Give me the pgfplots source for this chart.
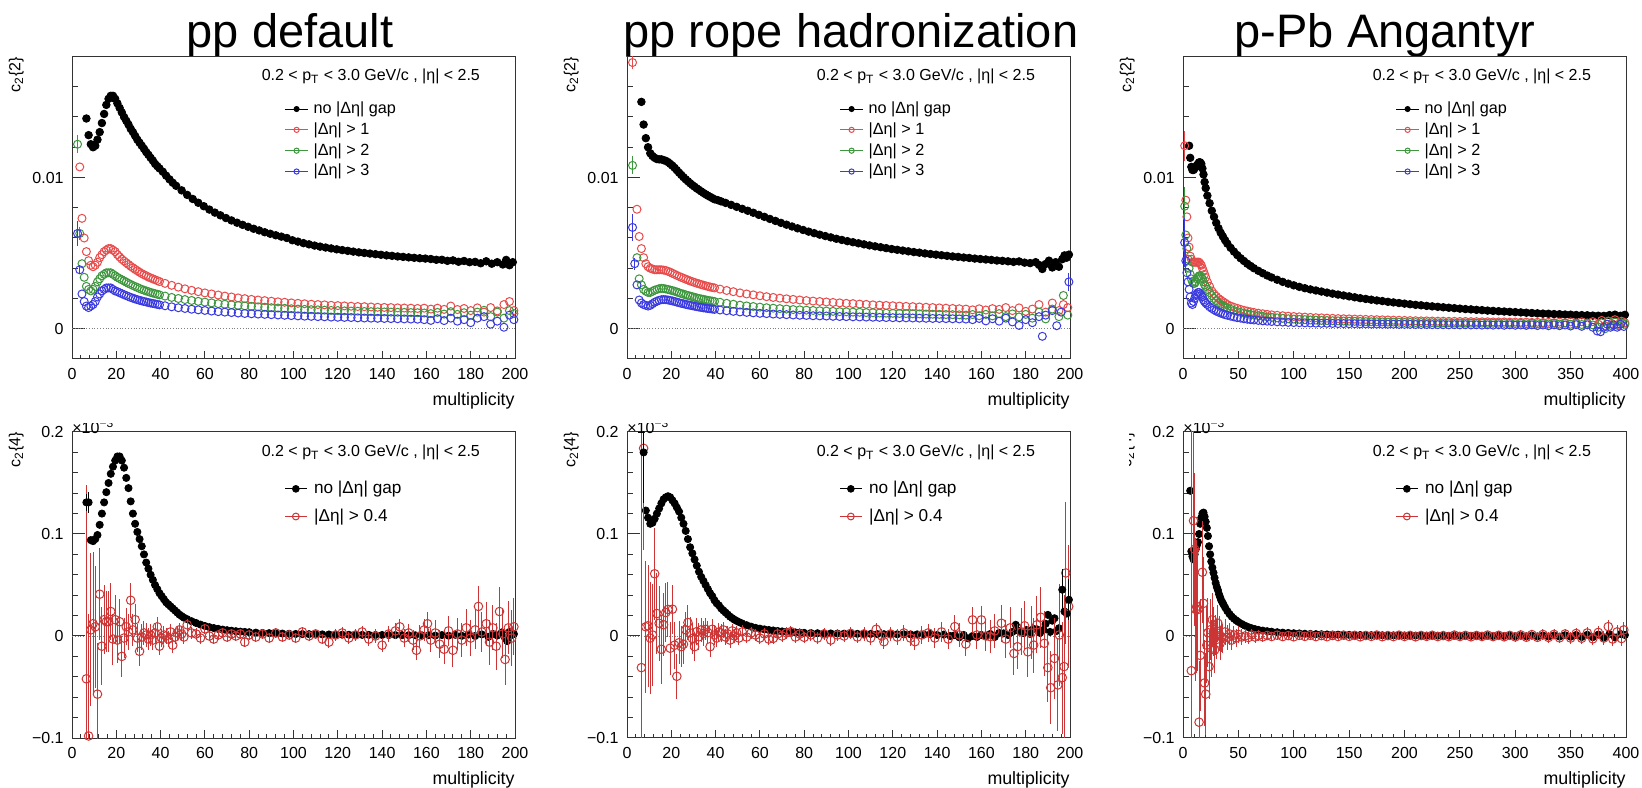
\documentclass[border=0pt]{standalone}
\usepackage{fontspec}
\setmainfont{Liberation Sans}
\usepackage{pgfplots}
\pgfplotsset{compat=1.18}

\definecolor{rred}{HTML}{E84B4B}
\definecolor{rgreen}{HTML}{3E963E}
\definecolor{rblue}{HTML}{3A3AE0}
\definecolor{cred}{HTML}{CC3535}
\definecolor{frame}{HTML}{333333}

\tikzset{kin/.style={anchor=west, inner sep=0pt, font=\fontsize{8}{9}\selectfont}}

\pgfplotsset{
  rootbase/.style={
    scale only axis, width=221.5pt,
    clip mode=individual,
    axis line style={line width=0.5pt, draw=frame},
    tick align=inside, tick pos=left,
    tick style={frame, line width=0.5pt},
    xtick style={/pgfplots/major tick length=3.8pt, /pgfplots/minor tick length=1.8pt},
    ytick style={/pgfplots/major tick length=6.5pt, /pgfplots/minor tick length=3.2pt},
    ticklabel style={font=\fontsize{8}{9}\selectfont},
    xticklabel style={inner sep=0pt, yshift=-4.5pt},
    yticklabel style={inner sep=0pt, xshift=-4pt},
    /pgf/number format/assume math mode=true,
    scaled ticks=false,
    xlabel={multiplicity},
    xlabel style={at={(1,0)}, anchor=north east, inner sep=0pt, yshift=-16.4pt, font=\fontsize{8.9}{10}\selectfont},
    ylabel style={at={(-0.1084,1)}, anchor=south east, inner sep=0pt, font=\fontsize{8}{9}\selectfont},
    legend cell align=left,
  },
  pp/.style={xmin=0, xmax=200, xtick={0,20,...,200}, minor x tick num=4},
  ppb/.style={xmin=0, xmax=400, xtick={0,50,...,400}, minor x tick num=4},
  cII/.style={height=151.25pt, ymin=-0.002, ymax=0.018, ytick={0,0.01}, yticklabels={0,0.01},
    minor ytick={0.002,0.004,0.006,0.008,0.012,0.014,0.016},
    ylabel={c\textsubscript{2}\{2\}},
    legend image code/.code={
      \draw[##1,mark=none] (0pt,0pt) -- (11.5pt,0pt);
      \draw[##1,mark size=1.3pt] plot coordinates {(5.75pt,0pt)};
    },
    legend style={draw=none, fill=none, inner sep=0pt, nodes={inner sep=0pt}, column sep=2.5pt,
      at={(0.479,0.723)}, anchor=west, row sep=3.05pt, font=\fontsize{8.1}{9}\selectfont}},
  cIV/.style={height=153pt, ymin=-0.1, ymax=0.2, ytick={-0.1,0,0.1,0.2}, yticklabels={−0.1,0,0.1,0.2},
    minor ytick={-0.08,-0.06,-0.04,-0.02,0.02,0.04,0.06,0.08,0.12,0.14,0.16,0.18},
    ylabel={c\textsubscript{2}\{4\}},
    legend image code/.code={
      \draw[##1,mark=none] (0pt,0pt) -- (10.75pt,0pt);
      \draw[##1,mark size=1.7pt] plot coordinates {(5.375pt,0pt)};
    },
    legend style={draw=none, fill=none, inner sep=0pt, nodes={inner sep=0pt}, column sep=3.5pt,
      at={(0.479,0.769)}, anchor=west, row sep=6.1pt, font=\fontsize{8.6}{10}\selectfont}},
  zl/.style={forget plot, gray, densely dotted, line width=0.4pt},
  blk/.style={only marks, mark=*, mark size=1.9pt, black},
  blb/.style={only marks, mark=*, mark size=1.8pt, black},
  opn/.style={only marks, mark=o, mark size=2.0pt, line width=0.5pt, #1},
  opb/.style={only marks, mark=o, mark size=2.15pt, line width=0.5pt, #1},
  eb/.style={forget plot, error bars/.cd, y dir=both, y explicit, error mark=none,
    error bar style={line width=0.5pt, #1}},
}

\newcommand{\kintext}{0.2 < p\textsubscript{T} < 3.0 GeV/c , |η| < 2.5}

\begin{document}
\begin{tikzpicture}
\useasboundingbox (0,0) rectangle (821pt,393.5pt);
\node[anchor=base, inner sep=0pt, font=\fontsize{23.5}{28}\selectfont] at (145pt,369.5pt) {pp default};
\node[anchor=base, inner sep=0pt, font=\fontsize{23.5}{28}\selectfont] at (425.5pt,369.5pt) {pp rope hadronization};
\node[anchor=base, inner sep=0pt, font=\fontsize{23.5}{28}\selectfont] at (692.5pt,369.5pt) {p-Pb Angantyr};

% ---------------- top left: pp default, c2{2}
\begin{axis}[rootbase, pp, cII, at={(36pt,214pt)}, anchor=south west]
\addplot[zl] coordinates {(0,0) (200,0)};
\addplot[blk] coordinates {
(6.5,0.0139)(7.5,0.0128)(8.5,0.0122)(9.5,0.0120)(10.5,0.0121)(11.5,0.0125)(12.5,0.0130)(13.5,0.0136)
(14.5,0.0142)(15.5,0.0148)(16.5,0.0152)(17.5,0.0154)(18.5,0.0154)(19.5,0.0152)(20.5,0.0149)(21.5,0.0146)
(22.5,0.0143)(23.5,0.0140)(24.5,0.01375)(25.5,0.0135)(26.5,0.01322)(27.5,0.0130)(28.5,0.01275)(29.5,0.0125)
(30.5,0.0123)(31.5,0.0121)(32.5,0.0119)(33.5,0.01168)(34.5,0.0115)(35.5,0.0113)(36.5,0.01112)(37.5,0.0109)
(38.5,0.01075)(39.5,0.0106)(41,0.01038)(42.5,0.01012)(44,0.00988)(45.5,0.00965)(47,0.00945)(49.5,0.00915)(52,0.00885)(54.5,0.00858)
(57,0.00833)(59.5,0.0081)(62,0.00788)(64.5,0.00768)(67,0.0075)(69.5,0.00732)(72,0.00716)(74.5,0.00701)
(77,0.00687)(79.5,0.00674)(82,0.00661)(84.5,0.0065)(87,0.00638)(89.5,0.00628)(92,0.00618)(94.5,0.00609)
(97,0.006)(99.5,0.00585)(102,0.00576)(104.5,0.00566)(107,0.00558)(109.5,0.0055)(112,0.00543)(114.5,0.00537)
(117,0.00531)(119.5,0.00525)(122,0.0052)(124.5,0.00515)(127,0.0051)(129.5,0.00505)(132,0.00501)(134.5,0.00497)
(137,0.00493)(139.5,0.00489)(142,0.00485)(144.5,0.00482)(147,0.00478)(149.5,0.00475)(152,0.00472)(154.5,0.00469)
(157,0.00466)(159.5,0.00464)(162,0.00461)(164.5,0.00456)(167,0.00456)(169.5,0.00449)(172,0.00452)(174.5,0.00443)
(177,0.00448)(179.5,0.0044)(182,0.00442)(184.5,0.00433)(187,0.00446)(189.5,0.0043)(192,0.0044)(194.5,0.00425)
(196,0.00455)(197.5,0.0042)(199,0.0044)};
\addlegendentry{no |Δη| gap}
\addplot[opn=rred] coordinates {
(3.5,0.0107)(4.5,0.0073)(5.5,0.0060)(6.5,0.0051)(7.5,0.0045)(8.5,0.0042)(9.5,0.0041)(10.5,0.0042)
(11.5,0.0044)(12.5,0.0047)(13.5,0.0049)(14.5,0.0051)(15.5,0.0052)(16.5,0.0053)(17.5,0.0053)(18.5,0.0052)
(19.5,0.0051)(20.5,0.0049)(21.5,0.00475)(22.5,0.0046)(23.5,0.00448)(24.5,0.00436)(25.5,0.00425)(26.5,0.00413)
(27.5,0.00403)(28.5,0.00393)(29.5,0.00383)(30.5,0.00374)(31.5,0.00365)(32.5,0.00357)(33.5,0.0035)(34.5,0.00342)
(35.5,0.00336)(36.5,0.0033)(37.5,0.00324)(38.5,0.00318)(39.5,0.00312)(42,0.003)(45,0.00287)(48,0.00275)
(51,0.00264)(54,0.00254)(57,0.00245)(60,0.00237)(63,0.0023)(66,0.00223)(69,0.00216)(72,0.0021)
(75,0.00204)(78,0.00199)(81,0.00194)(84,0.0019)(87,0.00186)(90,0.00182)(93,0.00178)(96,0.00175)
(99,0.00171)(102,0.00168)(105,0.00165)(108,0.00162)(111,0.0016)(114,0.00158)(117,0.00155)(120,0.00153)
(123,0.00151)(126,0.00149)(129,0.00147)(132,0.00146)(135,0.00144)(138,0.00142)(141,0.00141)(144,0.0014)
(147,0.00138)(150,0.00137)(153,0.00136)(156,0.00134)(159,0.00136)(162,0.0013)(165,0.00136)(168,0.00128)
(171,0.0015)(174,0.00127)(177,0.00134)(180,0.0012)(183,0.00138)(186,0.0011)(189,0.0014)(192,0.00118)
(195,0.0016)(197.5,0.0018)(199.5,0.0012)};
\addlegendentry{|Δη| > 1}
\addplot[opn=rgreen] coordinates {
(4.5,0.0043)(5.5,0.0034)(6.5,0.0028)(7.5,0.0026)(8.5,0.0025)(9.5,0.0026)(10.5,0.0028)(11.5,0.0031)
(12.5,0.0033)(13.5,0.0035)(14.5,0.0036)(15.5,0.0037)(16.5,0.0037)(17.5,0.0037)(18.5,0.0036)(19.5,0.0035)
(20.5,0.0034)(21.5,0.00332)(22.5,0.00324)(23.5,0.00316)(24.5,0.00308)(25.5,0.003)(26.5,0.00293)(27.5,0.00286)
(28.5,0.00279)(29.5,0.00273)(30.5,0.00266)(31.5,0.0026)(32.5,0.00255)(33.5,0.0025)(34.5,0.00245)(35.5,0.0024)
(36.5,0.00236)(37.5,0.00232)(38.5,0.00228)(39.5,0.00224)(42,0.00216)(45,0.00207)(48,0.002)(51,0.00193)
(54,0.00187)(57,0.00181)(60,0.00176)(63,0.00171)(66,0.00166)(69,0.00162)(72,0.00158)(75,0.00154)
(78,0.00151)(81,0.00148)(84,0.00145)(87,0.00142)(90,0.00139)(93,0.00137)(96,0.00135)(99,0.00132)
(102,0.0013)(105,0.00128)(108,0.00126)(111,0.00125)(114,0.00123)(117,0.00121)(120,0.0012)(123,0.00118)
(126,0.00117)(129,0.00116)(132,0.00114)(135,0.00113)(138,0.00112)(141,0.00111)(144,0.0011)(147,0.00109)
(150,0.00108)(153,0.00107)(156,0.00106)(159,0.00104)(162,0.001)(165,0.00108)(168,0.00097)(171,0.00113)
(174,0.00095)(177,0.00106)(180,0.0009)(183,0.0011)(186,0.00122)(189,0.0008)(192,0.0011)(195,0.0007)
(197.5,0.0012)(199.5,0.001)};
\addlegendentry{|Δη| > 2}
\addplot[opn=rblue] coordinates {
(4.5,0.0023)(5.5,0.0018)(6.5,0.0015)(7.5,0.0014)(8.5,0.0015)(9.5,0.0016)(10.5,0.0018)(11.5,0.0021)
(12.5,0.0023)(13.5,0.0025)(14.5,0.0026)(15.5,0.0027)(16.5,0.0027)(17.5,0.0027)(18.5,0.0026)(19.5,0.0025)
(20.5,0.00245)(21.5,0.00238)(22.5,0.00232)(23.5,0.00225)(24.5,0.00219)(25.5,0.00213)(26.5,0.00207)(27.5,0.00202)
(28.5,0.00197)(29.5,0.00192)(30.5,0.00188)(31.5,0.00184)(32.5,0.0018)(33.5,0.00177)(34.5,0.00173)(35.5,0.0017)
(36.5,0.00167)(37.5,0.00164)(38.5,0.00161)(39.5,0.00158)(42,0.00152)(45,0.00145)(48,0.00139)(51,0.00134)
(54,0.00129)(57,0.00125)(60,0.00121)(63,0.00117)(66,0.00113)(69,0.0011)(72,0.00107)(75,0.00104)
(78,0.00101)(81,0.00099)(84,0.00097)(87,0.00095)(90,0.00093)(93,0.00091)(96,0.00089)(99,0.00087)
(102,0.00085)(105,0.00083)(108,0.00082)(111,0.0008)(114,0.00079)(117,0.00077)(120,0.00076)(123,0.00075)
(126,0.00074)(129,0.00072)(132,0.00071)(135,0.0007)(138,0.00069)(141,0.00068)(144,0.00067)(147,0.00066)
(150,0.00065)(153,0.00064)(156,0.00063)(159,0.0006)(162,0.00055)(165,0.00066)(168,0.00054)(171,0.0007)
(174,0.0005)(177,0.0006)(180,0.0004)(183,0.0007)(186,0.0008)(189,0.0003)(192,0.0005)(195,0.0001)
(197.5,0.0009)(199.5,0.0006)};
\addlegendentry{|Δη| > 3}
\addplot[opn=rgreen, eb=rgreen] coordinates {(2.5,0.0122) +- (0,0.0006) (3.5,0.0063) +- (0,0.0004)};
\addplot[opn=rblue, eb=rblue] coordinates {(2.5,0.0063) +- (0,0.0008) (3.5,0.0039) +- (0,0.0003)};
\node[kin] at (rel axis cs:0.4275,0.935) {\kintext};
\end{axis}

% ---------------- top middle: pp rope, c2{2}
\begin{axis}[rootbase, pp, cII, at={(313.5pt,214pt)}, anchor=south west]
\addplot[zl] coordinates {(0,0) (200,0)};
\addplot[blk] coordinates {
(6.5,0.0150)(7.5,0.0135)(8.5,0.0126)(9.5,0.0120)(10.5,0.0116)(11.5,0.01142)(12.5,0.0113)(13.5,0.01122)
(14.5,0.0112)(15.5,0.0112)(16.5,0.01115)(17.5,0.0111)(18.5,0.01102)(19.5,0.0109)(20.5,0.01078)(21.5,0.01064)
(22.5,0.01048)(23.5,0.01032)(24.5,0.01017)(25.5,0.01002)(26.5,0.00988)(27.5,0.00975)(28.5,0.00962)(29.5,0.0095)
(30.5,0.00939)(31.5,0.00928)(32.5,0.00918)(33.5,0.00908)(34.5,0.00898)(35.5,0.00889)(36.5,0.0088)(37.5,0.00872)
(38.5,0.00864)(39.5,0.00856)(41,0.0085)(42.5,0.00842)(44.5,0.00832)(47,0.00819)(49.5,0.00806)(52,0.00793)(54.5,0.0078)
(57,0.00767)(59.5,0.00753)(62,0.0074)(64.5,0.00726)(67,0.00713)(69.5,0.007)(72,0.00688)(74.5,0.00676)
(77,0.00664)(79.5,0.00653)(82,0.00642)(84.5,0.00632)(87,0.00622)(89.5,0.00613)(92,0.00604)(94.5,0.00595)
(97,0.00587)(99.5,0.00579)(102,0.00572)(104.5,0.00565)(107,0.00558)(109.5,0.00551)(112,0.00545)(114.5,0.00539)
(117,0.00533)(119.5,0.00527)(122,0.00522)(124.5,0.00517)(127,0.00512)(129.5,0.00507)(132,0.00503)(134.5,0.00498)
(137,0.00494)(139.5,0.0049)(142,0.00486)(144.5,0.00482)(147,0.00478)(149.5,0.00475)(152,0.00471)(154.5,0.00468)
(157,0.00464)(159.5,0.00461)(162,0.00458)(164.5,0.00455)(167,0.00451)(169.5,0.00449)(172,0.00446)(174.5,0.00442)
(177,0.00445)(179.5,0.00437)(182,0.00434)(184.5,0.0044)(186,0.00422)(187.5,0.00395)(189,0.00428)(190.5,0.0045)
(192,0.00405)(193.5,0.0044)(195,0.0041)(196.5,0.0046)(197.5,0.00485)(198.5,0.0047)(199.5,0.0049)};
\addlegendentry{no |Δη| gap}
\addplot[opn=rred] coordinates {
(4.5,0.0079)(5.5,0.0061)(6.5,0.0053)(7.5,0.0047)(8.5,0.0043)(9.5,0.0041)(10.5,0.004)(11.5,0.00395)
(12.5,0.0039)(13.5,0.0039)(14.5,0.0039)(15.5,0.0039)(16.5,0.00388)(17.5,0.00385)(18.5,0.0038)(19.5,0.00374)
(20.5,0.00367)(21.5,0.0036)(22.5,0.00353)(23.5,0.00346)(24.5,0.0034)(25.5,0.00334)(26.5,0.00328)(27.5,0.00322)
(28.5,0.00316)(29.5,0.00311)(30.5,0.00306)(31.5,0.00301)(32.5,0.00297)(33.5,0.00292)(34.5,0.00288)(35.5,0.00284)
(36.5,0.0028)(37.5,0.00276)(38.5,0.00273)(39.5,0.0027)(42,0.00262)(45,0.00253)(48,0.00245)(51,0.00237)
(54,0.0023)(57,0.00224)(60,0.00218)(63,0.00212)(66,0.00207)(69,0.00202)(72,0.00198)(75,0.00194)
(78,0.0019)(81,0.00186)(84,0.00183)(87,0.0018)(90,0.00177)(93,0.00174)(96,0.00171)(99,0.00168)
(102,0.00166)(105,0.00163)(108,0.00161)(111,0.00158)(114,0.00156)(117,0.00154)(120,0.00152)(123,0.0015)
(126,0.00148)(129,0.00146)(132,0.00144)(135,0.00142)(138,0.0014)(141,0.00138)(144,0.00136)(147,0.00134)
(150,0.00132)(153,0.0013)(156,0.00125)(159,0.00132)(162,0.00124)(165,0.00133)(168,0.00128)(171,0.0014)
(174,0.0012)(177,0.00138)(180,0.00115)(183,0.0013)(186,0.0016)(189,0.0011)(192,0.0017)(195,0.0012)
(197,0.0016)(199,0.0014)};
\addlegendentry{|Δη| > 1}
\addplot[opn=rgreen] coordinates {
(4.5,0.0047)(5.5,0.0033)(6.5,0.0029)(7.5,0.0026)(8.5,0.00248)(9.5,0.0024)(10.5,0.0024)(11.5,0.00248)
(12.5,0.00255)(13.5,0.0026)(14.5,0.00265)(15.5,0.00267)(16.5,0.00266)(17.5,0.00263)(18.5,0.0026)(19.5,0.00256)
(20.5,0.00252)(21.5,0.00248)(22.5,0.00243)(23.5,0.00238)(24.5,0.00233)(25.5,0.00229)(26.5,0.00224)(27.5,0.0022)
(28.5,0.00216)(29.5,0.00212)(30.5,0.00208)(31.5,0.00204)(32.5,0.002)(33.5,0.00197)(34.5,0.00194)(35.5,0.00191)
(36.5,0.00188)(37.5,0.00185)(38.5,0.00183)(39.5,0.0018)(42,0.00175)(45,0.00168)(48,0.00162)(51,0.00156)
(54,0.00151)(57,0.00147)(60,0.00143)(63,0.00139)(66,0.00136)(69,0.00133)(72,0.0013)(75,0.00127)
(78,0.00125)(81,0.00123)(84,0.00121)(87,0.00119)(90,0.00117)(93,0.00115)(96,0.00113)(99,0.00112)
(102,0.0011)(105,0.00109)(108,0.00107)(111,0.00106)(114,0.00104)(117,0.00103)(120,0.00102)(123,0.00101)
(126,0.001)(129,0.00099)(132,0.00098)(135,0.00097)(138,0.00096)(141,0.00095)(144,0.00094)(147,0.00093)
(150,0.00092)(153,0.0009)(156,0.00094)(159,0.00086)(162,0.00095)(165,0.00085)(168,0.001)(171,0.0008)
(174,0.00098)(177,0.00078)(180,0.00095)(183,0.0007)(186,0.0011)(189,0.00065)(192,0.0013)(195,0.0008)
(197,0.0022)(199,0.0009)};
\addlegendentry{|Δη| > 2}
\addplot[opn=rblue] coordinates {
(4.5,0.0029)(5.5,0.0019)(6.5,0.0017)(7.5,0.0016)(8.5,0.00155)(9.5,0.0015)(10.5,0.00155)(11.5,0.00165)
(12.5,0.00175)(13.5,0.00182)(14.5,0.00188)(15.5,0.00192)(16.5,0.00193)(17.5,0.00192)(18.5,0.0019)(19.5,0.00187)
(20.5,0.00184)(21.5,0.0018)(22.5,0.00176)(23.5,0.00172)(24.5,0.00168)(25.5,0.00165)(26.5,0.00161)(27.5,0.00158)
(28.5,0.00155)(29.5,0.00152)(30.5,0.00149)(31.5,0.00146)(32.5,0.00143)(33.5,0.00141)(34.5,0.00138)(35.5,0.00136)
(36.5,0.00134)(37.5,0.00132)(38.5,0.0013)(39.5,0.00128)(42,0.00124)(45,0.00119)(48,0.00115)(51,0.00111)
(54,0.00108)(57,0.00105)(60,0.00102)(63,0.001)(66,0.00097)(69,0.00095)(72,0.00093)(75,0.00091)
(78,0.00089)(81,0.00088)(84,0.00086)(87,0.00085)(90,0.00084)(93,0.00082)(96,0.00081)(99,0.0008)
(102,0.00079)(105,0.00078)(108,0.00077)(111,0.00076)(114,0.00075)(117,0.00074)(120,0.00073)(123,0.00072)
(126,0.00072)(129,0.00071)(132,0.0007)(135,0.00069)(138,0.00068)(141,0.00068)(144,0.00067)(147,0.00066)
(150,0.00065)(153,0.00064)(156,0.0006)(159,0.00068)(162,0.00052)(165,0.00066)(168,0.0005)(171,0.0007)
(174,0.00045)(177,0.00022)(180,0.0006)(183,0.0004)(186,0.0008)(187.5,-0.0005)(189,0.0009)(192,0.0012)
(194,0.0002)(196,0.0011)};
\addlegendentry{|Δη| > 3}
\addplot[opn=rred, eb=rred] coordinates {(2.5,0.0176) +- (0,0.0004)};
\addplot[opn=rgreen, eb=rgreen] coordinates {(2.5,0.0108) +- (0,0.0006)};
\addplot[opn=rblue, eb=rblue] coordinates {(2.5,0.0067) +- (0,0.0009) (3.5,0.0043) +- (0,0.0004) (199.5,0.0031) +- (0,0.0006)};
\node[kin] at (rel axis cs:0.4275,0.935) {\kintext};
\end{axis}

% ---------------- top right: p-Pb Angantyr, c2{2}
\begin{axis}[rootbase, ppb, cII, at={(591.5pt,214pt)}, anchor=south west]
\addplot[zl] coordinates {(0,0) (400,0)};
\addplot[blk] coordinates {
(5.5,0.0121)(6.5,0.0113)(7.5,0.0107)(8.5,0.0105)(9.5,0.0105)(10.5,0.0106)(11.5,0.0107)(12.5,0.0108)
(13.5,0.0109)(14.5,0.0110)(15.5,0.0110)(16.5,0.0109)(17.5,0.0106)(18.5,0.0102)(19.5,0.0097)(20.5,0.0093)
(22,0.0088)(24,0.0083)(26,0.0078)(28,0.0074)(30,0.0070)(32,0.00665)(34,0.00635)(36,0.0061)
(38,0.00585)(40,0.00563)(43,0.00535)(46,0.0051)(49,0.00487)(52,0.00466)(55,0.00448)(58,0.0043)
(61,0.00415)(64,0.004)(68,0.00383)(72,0.00367)(76,0.00352)(80,0.00339)(85,0.00324)(90,0.0031)
(95,0.00298)(100,0.00287)(105,0.00277)(110,0.00268)(115,0.0026)(120,0.00253)(125,0.00246)(130,0.00239)
(135,0.00232)(140,0.00226)(145,0.0022)(150,0.00214)(155,0.00208)(160,0.00202)(165,0.00197)(170,0.00192)
(175,0.00187)(180,0.00183)(185,0.00178)(190,0.00174)(195,0.0017)(200,0.00166)(205,0.00162)(210,0.00158)
(215,0.00155)(220,0.00151)(225,0.00148)(230,0.00145)(235,0.00142)(240,0.00139)(245,0.00136)(250,0.00133)
(255,0.0013)(260,0.00128)(265,0.00125)(270,0.00123)(275,0.0012)(280,0.00118)(285,0.00116)(290,0.00114)
(295,0.00112)(300,0.0011)(305,0.00108)(310,0.00106)(315,0.00104)(320,0.00102)(325,0.001)(330,0.00099)
(335,0.00097)(340,0.00096)(345,0.00094)(350,0.00093)(355,0.00091)(360,0.0009)(365,0.00089)(370,0.00087)
(375,0.00086)(380,0.00085)(385,0.0009)(390,0.00093)(395,0.00086)(399,0.00092)};
\addlegendentry{no |Δη| gap}
\addplot[opn=rred] coordinates {
(2.5,0.0085)(3.5,0.0074)(4.5,0.006)(5.5,0.0054)(6.5,0.0048)(7.5,0.0046)(8.5,0.0044)(9.5,0.0044)
(10.5,0.0044)(11.5,0.0044)(12.5,0.0044)(13.5,0.0044)(14.5,0.0044)(15.5,0.0043)(16.5,0.0042)(17.5,0.004)
(18.5,0.0038)(19.5,0.0036)(20.5,0.0034)(22,0.0031)(24,0.0028)(26,0.0025)(28,0.0023)(30,0.00215)
(32,0.002)(34,0.0019)(36,0.0018)(38,0.0017)(40,0.0016)(43,0.0015)(46,0.00142)(49,0.00135)
(52,0.00128)(55,0.00122)(58,0.00117)(61,0.00112)(64,0.00108)(68,0.00103)(72,0.00099)(76,0.00095)
(80,0.00092)(85,0.00089)(90,0.00086)(95,0.00083)(100,0.00081)(105,0.00079)(110,0.00077)(115,0.00075)
(120,0.00073)(125,0.00072)(130,0.0007)(135,0.00069)(140,0.00067)(145,0.00066)(150,0.00065)(155,0.00064)
(160,0.00063)(165,0.00062)(170,0.00061)(175,0.0006)(180,0.00059)(185,0.00058)(190,0.00057)(195,0.00056)
(200,0.00055)(205,0.00054)(210,0.00053)(215,0.00052)(220,0.00052)(225,0.00051)(230,0.0005)(235,0.0005)
(240,0.00049)(245,0.00049)(250,0.00048)(255,0.00048)(260,0.00047)(265,0.00047)(270,0.00046)(275,0.00046)
(280,0.00045)(285,0.00045)(290,0.00045)(295,0.00044)(300,0.00044)(305,0.00043)(310,0.00044)(315,0.00042)
(320,0.00043)(325,0.00041)(330,0.00043)(335,0.0004)(340,0.00044)(345,0.00039)(350,0.00045)(355,0.00038)
(360,0.00046)(365,0.00036)(370,0.00047)(375,0.0003)(378,0.00055)(381,0.0002)(384,0.0005)(387,0.00035)
(390,0.0006)(393,0.0003)(396,0.0005)(399,0.0004)};
\addlegendentry{|Δη| > 1}
\addplot[opn=rgreen] coordinates {
(2.5,0.0062)(3.5,0.0053)(4.5,0.0046)(5.5,0.004)(6.5,0.0036)(7.5,0.0033)(8.5,0.0031)(9.5,0.003)
(10.5,0.003)(11.5,0.0031)(12.5,0.0033)(13.5,0.0034)(14.5,0.0035)(15.5,0.0035)(16.5,0.0034)(17.5,0.0033)
(18.5,0.0031)(19.5,0.0029)(20.5,0.0028)(22,0.0026)(24,0.0024)(26,0.0022)(28,0.002)(30,0.00185)
(32,0.00172)(34,0.00162)(36,0.00153)(38,0.00145)(40,0.00138)(43,0.00129)(46,0.00121)(49,0.00114)
(52,0.00108)(55,0.00103)(58,0.00098)(61,0.00094)(64,0.0009)(68,0.00086)(72,0.00082)(76,0.00078)
(80,0.00075)(85,0.00072)(90,0.00069)(95,0.00066)(100,0.00064)(105,0.00062)(110,0.0006)(115,0.00058)
(120,0.00057)(125,0.00055)(130,0.00054)(135,0.00053)(140,0.00052)(145,0.00051)(150,0.0005)(155,0.00049)
(160,0.00048)(165,0.00047)(170,0.00046)(175,0.00046)(180,0.00045)(185,0.00044)(190,0.00044)(195,0.00043)
(200,0.00042)(205,0.00042)(210,0.00041)(215,0.00041)(220,0.0004)(225,0.0004)(230,0.00039)(235,0.00039)
(240,0.00039)(245,0.00038)(250,0.00038)(255,0.00038)(260,0.00037)(265,0.00037)(270,0.00037)(275,0.00036)
(280,0.00036)(285,0.00036)(290,0.00035)(295,0.00036)(300,0.00034)(305,0.00036)(310,0.00033)(315,0.00036)
(320,0.00033)(325,0.00035)(330,0.00032)(335,0.00036)(340,0.00031)(345,0.00037)(350,0.0003)(355,0.00036)
(360,0.00028)(365,0.00038)(370,0.00025)(375,0.0001)(378,0.0004)(381,0.0)(384,0.0005)(387,0.0002)
(390,0.00045)(393,0.0002)(396,0.0004)(399,0.0003)};
\addlegendentry{|Δη| > 2}
\addplot[opn=rblue] coordinates {
(3.5,0.0037)(4.5,0.0031)(5.5,0.0026)(6.5,0.0021)(7.5,0.0017)(8.5,0.0016)(9.5,0.0018)(10.5,0.002)
(11.5,0.0022)(12.5,0.0023)(13.5,0.0024)(14.5,0.0024)(15.5,0.0023)(16.5,0.0022)(17.5,0.0021)(18.5,0.0019)
(19.5,0.0018)(20.5,0.0017)(22,0.0016)(24,0.00145)(26,0.00135)(28,0.00125)(30,0.00117)(32,0.0011)
(34,0.00104)(36,0.00098)(38,0.00093)(40,0.00089)(43,0.00083)(46,0.00078)(49,0.00073)(52,0.0007)
(55,0.00066)(58,0.00063)(61,0.0006)(64,0.00058)(68,0.00055)(72,0.00052)(76,0.0005)(80,0.00048)
(85,0.00046)(90,0.00044)(95,0.00042)(100,0.00041)(105,0.0004)(110,0.00039)(115,0.00038)(120,0.00037)
(125,0.00036)(130,0.00036)(135,0.00035)(140,0.00034)(145,0.00034)(150,0.00033)(155,0.00033)(160,0.00032)
(165,0.00032)(170,0.00031)(175,0.00031)(180,0.0003)(185,0.0003)(190,0.0003)(195,0.00029)(200,0.00029)
(205,0.00029)(210,0.00028)(215,0.00028)(220,0.00028)(225,0.00027)(230,0.00027)(235,0.00027)(240,0.00026)
(245,0.00027)(250,0.00026)(255,0.00027)(260,0.00025)(265,0.00026)(270,0.00024)(275,0.00026)(280,0.00024)
(285,0.00026)(290,0.00023)(295,0.00026)(300,0.00023)(305,0.00025)(310,0.00022)(315,0.00026)(320,0.00021)
(325,0.00025)(330,0.0002)(335,0.00026)(340,0.0002)(345,0.00025)(350,0.00018)(355,0.00027)(360,0.00016)
(365,0.00026)(370,0.0001)(374,-0.00015)(377,-0.0002)(380,0.0001)(383,0.0003)(386,0.0001)(389,0.00025)
(392,0.0001)(395,0.0003)(398,0.00015)};
\addlegendentry{|Δη| > 3}
\addplot[opn=rred, eb=rred] coordinates {(1.5,0.0121) +- (0,0.0010)};
\addplot[opn=rgreen, eb=rgreen] coordinates {(1.5,0.0081) +- (0,0.0013)};
\addplot[opn=rblue, eb=rblue] coordinates {(1.5,0.0057) +- (0,0.0016) (2.5,0.0045) +- (0,0.0008)};
\node[kin] at (rel axis cs:0.4275,0.935) {\kintext};
\end{axis}

% ---------------- bottom left: pp default, c2{4} (units of 1e-3)
\begin{axis}[rootbase, pp, cIV, at={(36pt,24.5pt)}, anchor=south west]
\addplot[zl] coordinates {(0,0) (200,0)};
\addplot[blb] coordinates {
(8.5,0.094)(9.5,0.093)(10.5,0.095)(11.5,0.099)(12.5,0.109)(13.5,0.12)(14.5,0.131)(15.5,0.141)
(16.5,0.15)(17.5,0.159)(18.5,0.166)(19.5,0.172)(20.5,0.176)(21.5,0.176)(22.5,0.172)(23.5,0.165)
(24.5,0.155)(25.5,0.145)(26.5,0.132)(27.5,0.12)(28.5,0.11)(29.5,0.102)(30.5,0.095)(31.5,0.088)
(32.5,0.08)(33.5,0.072)(34.5,0.066)(35.5,0.06)(36.5,0.055)(37.5,0.05)(38.5,0.046)(39.5,0.042)
(40.5,0.039)(41.5,0.036)(42.5,0.033)(43.5,0.031)(44.5,0.029)(45.5,0.027)(46.5,0.025)(47.5,0.023)
(48.5,0.021)(49.5,0.0195)(50.5,0.018)(52,0.0165)(54,0.0145)(56,0.0128)(58,0.0112)(60,0.0098)
(62,0.0087)(64,0.0078)(66,0.007)(68,0.0063)(70,0.0057)(72,0.0052)(74,0.0047)(76,0.0043)
(78,0.004)(80,0.0037)(83,0.0033)(86,0.003)(89,0.0028)(92,0.0026)(95,0.0024)(98,0.0022)
(101,0.002)(104,0.0019)(107,0.0018)(110,0.0017)(113,0.0016)(116,0.0015)(119,0.0014)(122,0.0013)
(125,0.0012)(128,0.0012)(131,0.0011)(134,0.0011)(137,0.001)(140,0.001)(143,0.0009)(146,0.0009)
(149,0.0008)(152,0.0008)(155,0.0007)(158,0.0006)(161,0.0008)(164,0.0004)(167,0.0009)(170,0.0003)
(173,0.0012)(176,0.0002)(179,0.0014)(182,0.0)(185,0.0016)(188,-0.0008)(190,0.002)(192,0.0005)
(194,0.0035)(195.5,-0.002)(196.5,-0.005)(197.5,0.004)(198.5,0.001)(199.5,0.002)};
\addlegendentry{no |Δη| gap}
\addplot[opb=cred, error bars/.cd, y dir=both, y explicit, error mark=none, error bar style={line width=0.5pt, cred}] coordinates {
(6.5,-0.042) +- (0,0.19) (7.5,-0.098) +- (0,0.12) (8.5,0.006) +- (0,0.075) (9.5,0.012) +- (0,0.07)
(10.5,0.009) +- (0,0.06) (11.5,-0.057) +- (0,0.05) (12.5,0.041) +- (0,0.045) (13.5,-0.010) +- (0,0.038)
(14.5,0.016) +- (0,0.034) (15.5,0.014) +- (0,0.03) (16.5,0.014) +- (0,0.03) (17.5,0.024) +- (0,0.028)
(18.5,-0.003) +- (0,0.025) (19.5,0.016) +- (0,0.024) (20.5,-0.004) +- (0,0.022) (21.5,0.014) +- (0,0.022)
(22.5,-0.020) +- (0,0.02) (23.5,-0.002) +- (0,0.02) (24.5,0.009) +- (0,0.018) (25.5,0.004) +- (0,0.018)
(26.5,0.035) +- (0,0.017) (27.5,0.006) +- (0,0.016) (28.5,0.016) +- (0,0.015) (29.5,-0.002) +- (0,0.014)
(30.5,-0.015) +- (0,0.014) (31.5,-0.001) +- (0,0.013) (32.5,0.003) +- (0,0.012) (33.5,0.001) +- (0,0.012)
(34.5,-0.003) +- (0,0.011) (35.5,0.001) +- (0,0.011) (36.5,-0.004) +- (0,0.01) (37.5,0.003) +- (0,0.01)
(38.5,0.009) +- (0,0.0095) (39.5,-0.010) +- (0,0.009) (40.5,-0.002) +- (0,0.009) (41.5,0.001) +- (0,0.0085)
(42.5,0.0) +- (0,0.008) (43.5,-0.003) +- (0,0.008) (44.5,0.004) +- (0,0.0075) (45.5,-0.009) +- (0,0.0075)
(46.5,-0.001) +- (0,0.007) (47.5,0.003) +- (0,0.007) (48.5,0.006) +- (0,0.007) (49.5,0.002) +- (0,0.0065)
(50.5,-0.001) +- (0,0.0065) (52,0.011) +- (0,0.006) (54,0.003) +- (0,0.006) (56,0.002) +- (0,0.0055)
(58,-0.002) +- (0,0.0055) (60,0.007) +- (0,0.005) (62,0.0) +- (0,0.005) (64,-0.003) +- (0,0.005)
(66,0.001) +- (0,0.005) (68,0.003) +- (0,0.005) (70,-0.001) +- (0,0.005) (72,0.002) +- (0,0.005)
(74,0.0) +- (0,0.005) (76,0.002) +- (0,0.005) (78,-0.006) +- (0,0.005) (80,0.001) +- (0,0.005)
(83,-0.001) +- (0,0.005) (86,0.002) +- (0,0.005) (89,-0.002) +- (0,0.005) (92,0.003) +- (0,0.005)
(95,-0.001) +- (0,0.005) (98,0.001) +- (0,0.005) (101,-0.002) +- (0,0.005) (104,0.004) +- (0,0.005)
(107,0.0) +- (0,0.005) (110,0.002) +- (0,0.005) (113,-0.003) +- (0,0.005) (116,-0.006) +- (0,0.0055)
(119,0.001) +- (0,0.0055) (122,0.003) +- (0,0.006) (125,-0.002) +- (0,0.006) (128,0.001) +- (0,0.006)
(131,0.004) +- (0,0.006) (134,-0.003) +- (0,0.0065) (137,0.0) +- (0,0.007) (140,-0.009) +- (0,0.007)
(143,0.002) +- (0,0.0075) (146,0.005) +- (0,0.008) (148,0.009) +- (0,0.008) (150,-0.002) +- (0,0.009)
(152,0.003) +- (0,0.009) (154,-0.004) +- (0,0.01) (155.5,-0.014) +- (0,0.01) (157,0.0) +- (0,0.011)
(159,0.006) +- (0,0.011) (160.5,0.012) +- (0,0.012) (162,-0.004) +- (0,0.012) (164,0.003) +- (0,0.013)
(166,-0.008) +- (0,0.014) (168,-0.013) +- (0,0.014) (170,0.005) +- (0,0.015) (172,-0.014) +- (0,0.016)
(174,0.002) +- (0,0.016) (176,-0.004) +- (0,0.017) (178,0.008) +- (0,0.018) (180,-0.002) +- (0,0.018)
(182,0.006) +- (0,0.019) (183.5,0.029) +- (0,0.02) (185,0.004) +- (0,0.02) (187,0.012) +- (0,0.021)
(188.5,-0.006) +- (0,0.022) (190,0.008) +- (0,0.022) (191.5,-0.01) +- (0,0.023) (193,0.024) +- (0,0.024)
(194.5,0.002) +- (0,0.024) (195.5,-0.023) +- (0,0.025) (197,0.008) +- (0,0.026) (198.5,-0.002) +- (0,0.027)
(199.5,0.009) +- (0,0.028)};
\addlegendentry{|Δη| > 0.4}
\addplot[blb, eb=black] coordinates {(6.5,0.131) +- (0,0.008) (7.5,0.131) +- (0,0.01)};
\node[kin] at (rel axis cs:0.4275,0.934) {\kintext};
\node[anchor=south west, inner sep=0pt, yshift=-1pt, font=\fontsize{8}{9}\selectfont] at (rel axis cs:0,1) {×10\textsuperscript{−3}};
\end{axis}

% ---------------- bottom middle: pp rope, c2{4}
\begin{axis}[rootbase, pp, cIV, at={(313.5pt,24.5pt)}, anchor=south west]
\addplot[zl] coordinates {(0,0) (200,0)};
\addplot[blb] coordinates {
(8.5,0.123)(9.5,0.116)(10.5,0.11)(11.5,0.111)(12.5,0.115)(13.5,0.12)(14.5,0.125)(15.5,0.13)
(16.5,0.134)(17.5,0.136)(18.5,0.137)(19.5,0.136)(20.5,0.133)(21.5,0.13)(22.5,0.126)(23.5,0.122)
(24.5,0.116)(25.5,0.11)(26.5,0.103)(27.5,0.095)(28.5,0.087)(29.5,0.081)(30.5,0.075)(31.5,0.069)
(32.5,0.063)(33.5,0.058)(34.5,0.054)(35.5,0.05)(36.5,0.046)(37.5,0.042)(38.5,0.039)(39.5,0.035)
(40.5,0.032)(41.5,0.03)(42.5,0.027)(43.5,0.025)(44.5,0.023)(45.5,0.021)(46.5,0.019)(47.5,0.0175)
(48.5,0.016)(49.5,0.0148)(50.5,0.0137)(52,0.0123)(54,0.0106)(56,0.0092)(58,0.008)(60,0.0072)
(62,0.0065)(64,0.0059)(66,0.0054)(68,0.0049)(70,0.0045)(72,0.0041)(74,0.0038)(76,0.0035)
(78,0.0033)(80,0.0031)(83,0.0029)(86,0.0027)(89,0.0026)(92,0.0025)(95,0.0024)(98,0.0023)
(101,0.0022)(104,0.0021)(107,0.002)(110,0.002)(113,0.0019)(116,0.0018)(119,0.0018)(122,0.0017)
(125,0.0017)(128,0.0016)(131,0.0016)(134,0.0015)(137,0.002)(140,0.001)(143,0.0014)(146,0.0)
(148,0.0008)(150,-0.0013)(152,0.001)(154,-0.0023)(156,0.0)(158,-0.001)(160,0.001)(162,0.0)
(164,0.002)(166,-0.001)(168,0.003)(170,0.0026)(172,0.001)(174,0.004)(175.5,0.011)(177,0.005)
(179,0.003)(180.5,0.006)(182,0.002)(183.5,0.007)(185,0.0066)(186.5,0.003)(188,0.006)(189,0.012)
(190,0.0207)(191,0.004)(192,0.015)(193,0.0174)(194,0.005)(195,0.0076)(197.5,0.024)(198.5,0.022)};
\addlegendentry{no |Δη| gap}
\addplot[opb=cred, error bars/.cd, y dir=both, y explicit, error mark=none, error bar style={line width=0.5pt, cred}] coordinates {
(6.5,-0.031) +- (0,0.25) (7.5,0.184) +- (0,0.1) (8.5,0.009) +- (0,0.065) (9.5,0.010) +- (0,0.06)
(10.5,-0.002) +- (0,0.055) (11.5,0.001) +- (0,0.05) (12.5,0.061) +- (0,0.045) (13.5,0.022) +- (0,0.04)
(14.5,0.0125) +- (0,0.037) (15.5,-0.013) +- (0,0.034) (16.5,0.011) +- (0,0.031) (17.5,0.023) +- (0,0.029)
(18.5,0.026) +- (0,0.027) (19.5,-0.012) +- (0,0.026) (20.5,0.0263) +- (0,0.024) (21.5,-0.009) +- (0,0.023)
(22.5,-0.0395) +- (0,0.022) (23.5,-0.0066) +- (0,0.021) (24.5,-0.0105) +- (0,0.02) (25.5,-0.008) +- (0,0.019)
(26.5,0.006) +- (0,0.018) (27.5,0.0132) +- (0,0.017) (28.5,0.003) +- (0,0.016) (29.5,-0.0023) +- (0,0.015)
(30.5,-0.0105) +- (0,0.014) (31.5,0.0043) +- (0,0.013) (32.5,-0.0007) +- (0,0.013) (33.5,0.006) +- (0,0.012)
(34.5,0.0026) +- (0,0.012) (35.5,0.0066) +- (0,0.011) (36.5,0.0033) +- (0,0.011) (37.5,-0.0105) +- (0,0.01)
(38.5,0.0066) +- (0,0.01) (39.5,0.001) +- (0,0.0095) (40.5,-0.002) +- (0,0.009) (41.5,0.004) +- (0,0.009)
(42.5,0.003) +- (0,0.0085) (43.5,0.006) +- (0,0.008) (44.5,-0.001) +- (0,0.008) (45.5,0.002) +- (0,0.0075)
(46.5,-0.004) +- (0,0.0075) (47.5,0.005) +- (0,0.007) (48.5,0.0) +- (0,0.007) (49.5,0.003) +- (0,0.007)
(50.5,-0.002) +- (0,0.0065) (52,0.004) +- (0,0.0065) (54,-0.001) +- (0,0.006) (56,0.003) +- (0,0.006)
(58,0.001) +- (0,0.006) (60,-0.002) +- (0,0.0055) (62,0.002) +- (0,0.0055) (64,-0.003) +- (0,0.0055)
(66,-0.0023) +- (0,0.0055) (68,0.002) +- (0,0.0055) (70,0.0) +- (0,0.0055) (72,0.003) +- (0,0.0055)
(74,0.0043) +- (0,0.0055) (76,-0.001) +- (0,0.0055) (78,0.002) +- (0,0.0055) (80,-0.0013) +- (0,0.0055)
(83,0.001) +- (0,0.0055) (86,-0.002) +- (0,0.0055) (89,0.002) +- (0,0.0055) (92,-0.004) +- (0,0.006)
(95,0.001) +- (0,0.006) (98,0.0) +- (0,0.006) (101,0.0026) +- (0,0.006) (104,-0.001) +- (0,0.006)
(107,0.002) +- (0,0.0065) (110,-0.002) +- (0,0.0065) (112.5,0.0066) +- (0,0.0065) (115,0.0) +- (0,0.007)
(116,-0.0056) +- (0,0.007) (119,0.002) +- (0,0.007) (122,-0.001) +- (0,0.0075) (125,0.003) +- (0,0.0075)
(128,-0.002) +- (0,0.008) (130,-0.0056) +- (0,0.008) (133,0.001) +- (0,0.0085) (136,0.003) +- (0,0.009)
(139,-0.002) +- (0,0.0095) (142,0.004) +- (0,0.01) (145,-0.003) +- (0,0.01) (148,0.0092) +- (0,0.011)
(150,0.001) +- (0,0.012) (153,-0.0079) +- (0,0.012) (156,0.0158) +- (0,0.013) (158,0.001) +- (0,0.014)
(160,0.0158) +- (0,0.014) (162,0.0) +- (0,0.015) (164,-0.0007) +- (0,0.016) (166,0.005) +- (0,0.017)
(169,0.0125) +- (0,0.018) (171,-0.003) +- (0,0.019) (173,0.008) +- (0,0.02) (174.7,-0.0171) +- (0,0.021)
(176.3,-0.0105) +- (0,0.022) (178,0.004) +- (0,0.023) (179.5,0.01) +- (0,0.024) (181,-0.0155) +- (0,0.025)
(182.5,0.003) +- (0,0.026) (183.6,-0.0089) +- (0,0.027) (185,0.0109) +- (0,0.028) (186.8,0.0184) +- (0,0.03)
(188.4,-0.0072) +- (0,0.032) (190,-0.031) +- (0,0.034) (191.3,-0.0507) +- (0,0.036) (193,-0.022) +- (0,0.04)
(194.5,-0.048) +- (0,0.045) (195.2,0.001) +- (0,0.05) (196.5,-0.0408) +- (0,0.055) (197.3,-0.030) +- (0,0.07)
(198.1,0.0618) +- (0,0.07) (199.4,0.0289) +- (0,0.06)};
\addlegendentry{|Δη| > 0.4}
\addplot[blb, eb=black] coordinates {(7.5,0.18) +- (0,0.05) (196.5,0.0454) +- (0,0.02) (199.5,0.0355) +- (0,0.02)};
\node[kin] at (rel axis cs:0.4275,0.934) {\kintext};
\node[anchor=south west, inner sep=0pt, yshift=-1pt, font=\fontsize{8}{9}\selectfont] at (rel axis cs:0,1) {×10\textsuperscript{−3}};
\end{axis}

% ---------------- bottom right: p-Pb Angantyr, c2{4}
\begin{axis}[rootbase, ppb, cIV, at={(591.5pt,24.5pt)}, anchor=south west]
\addplot[zl] coordinates {(0,0) (400,0)};
\addplot[blb] coordinates {
(6.5,0.1424)(7.5,0.083)(8.5,0.078)(9.5,0.075)(10.5,0.08)(11.5,0.085)(12.5,0.089)(13.5,0.092)
(14.5,0.1)(15.5,0.11)(16.5,0.116)(17.5,0.12)(18.5,0.121)(19.5,0.117)(20.5,0.112)(21.5,0.106)
(22.5,0.098)(23.5,0.088)(24.5,0.08)(25.5,0.073)(26.5,0.067)(27.5,0.062)(28.5,0.057)(29.5,0.052)
(30.5,0.048)(31.5,0.045)(32.5,0.041)(33.5,0.038)(34.5,0.035)(35.5,0.033)(36.5,0.031)(38,0.028)
(40,0.0245)(42,0.0215)(44,0.019)(46,0.017)(48,0.0153)(50,0.0138)(53,0.0118)(56,0.0101)
(59,0.0087)(62,0.0076)(65,0.0067)(68,0.006)(72,0.0053)(76,0.0047)(80,0.0042)(85,0.0037)
(90,0.0033)(95,0.003)(100,0.0027)(105,0.0025)(110,0.0022)(115,0.002)(120,0.0018)(125,0.0017)
(130,0.0015)(135,0.0014)(140,0.0013)(145,0.0012)(150,0.0011)(155,0.001)(160,0.0009)(165,0.0009)
(170,0.0008)(175,0.0007)(180,0.0007)(185,0.0006)(190,0.0006)(195,0.0005)(200,0.0005)(205,0.0004)
(210,0.0004)(215,0.0004)(220,0.0003)(225,0.0003)(230,0.0003)(235,0.0002)(240,0.0002)(245,0.0002)
(250,0.0002)(255,0.0001)(260,0.0002)(265,0.0001)(270,0.0001)(275,0.0002)(280,0.0)(285,0.0002)
(290,0.0)(295,0.0003)(300,-0.0002)(305,0.0003)(310,-0.0003)(315,0.0004)(320,-0.0004)(325,0.0005)
(330,-0.0005)(335,0.0006)(340,-0.0006)(345,0.0008)(350,-0.0008)(355,0.001)(360,-0.001)(365,0.0012)
(370,-0.0012)(375,0.0014)(380,-0.0015)(385,0.0018)(390,-0.0015)(395,0.002)(399,0.001)};
\addlegendentry{no |Δη| gap}
\addplot[opb=cred, error bars/.cd, y dir=both, y explicit, error mark=none, error bar style={line width=0.5pt, cred}] coordinates {
(7.5,-0.034) +- (0,0.25) (9.5,0.113) +- (0,0.09) (10.5,0.085) +- (0,0.075) (11.5,0.026) +- (0,0.07)
(12.5,0.029) +- (0,0.065) (13.5,0.026) +- (0,0.06) (14.5,-0.0845) +- (0,0.06) (15.5,-0.019) +- (0,0.055)
(17.5,0.0625) +- (0,0.05) (18.5,0.032) +- (0,0.045) (19.5,-0.046) +- (0,0.042) (20.5,-0.057) +- (0,0.04)
(21.5,-0.009) +- (0,0.037) (22.5,0.0033) +- (0,0.034) (23.5,-0.03) +- (0,0.032) (24.5,0.006) +- (0,0.03)
(25.5,-0.012) +- (0,0.028) (26.5,0.0158) +- (0,0.026) (27.5,0.0043) +- (0,0.024) (28.5,-0.0138) +- (0,0.022)
(29.5,0.001) +- (0,0.02) (30.5,-0.0033) +- (0,0.019) (31.5,0.0125) +- (0,0.018) (32.5,0.0026) +- (0,0.017)
(33.5,-0.0072) +- (0,0.016) (34.5,-0.0007) +- (0,0.015) (36,-0.0023) +- (0,0.014) (38,0.004) +- (0,0.013)
(40,-0.0013) +- (0,0.012) (42,0.002) +- (0,0.011) (44,-0.004) +- (0,0.01) (46,0.001) +- (0,0.009)
(48,-0.002) +- (0,0.0085) (50,0.0015) +- (0,0.008) (53,-0.001) +- (0,0.0075) (56,0.0) +- (0,0.007)
(59,-0.0015) +- (0,0.0065) (62,0.001) +- (0,0.006) (65,-0.001) +- (0,0.0055) (68,0.0005) +- (0,0.005)
(72,-0.0008) +- (0,0.005) (76,0.0005) +- (0,0.0045) (80,-0.0005) +- (0,0.0045) (85,0.0008) +- (0,0.004)
(90,-0.0006) +- (0,0.004) (95,0.0004) +- (0,0.004) (100,-0.0008) +- (0,0.004) (105,0.0006) +- (0,0.004)
(110,-0.0004) +- (0,0.004) (115,0.0007) +- (0,0.004) (120,-0.0006) +- (0,0.004) (125,0.0004) +- (0,0.004)
(130,-0.0007) +- (0,0.004) (135,0.0005) +- (0,0.004) (140,-0.0005) +- (0,0.004) (145,0.0008) +- (0,0.004)
(150,-0.0004) +- (0,0.004) (155,0.0006) +- (0,0.004) (160,-0.0008) +- (0,0.004) (165,0.0005) +- (0,0.004)
(170,-0.0004) +- (0,0.004) (175,0.0009) +- (0,0.004) (180,-0.0007) +- (0,0.004) (185,0.0004) +- (0,0.004)
(190,-0.0006) +- (0,0.004) (195,0.0008) +- (0,0.004) (200,-0.0005) +- (0,0.004) (205,0.0006) +- (0,0.004)
(210,-0.0008) +- (0,0.004) (215,0.0005) +- (0,0.004) (220,-0.0004) +- (0,0.004) (225,0.0007) +- (0,0.004)
(230,-0.0006) +- (0,0.004) (235,0.0004) +- (0,0.004) (240,-0.0007) +- (0,0.004) (245,0.0009) +- (0,0.004)
(250,-0.0005) +- (0,0.004) (255,0.0006) +- (0,0.004) (260,-0.0008) +- (0,0.004) (265,0.0005) +- (0,0.004)
(270,-0.0005) +- (0,0.004) (275,0.0009) +- (0,0.004) (280,-0.0006) +- (0,0.004) (285,0.0007) +- (0,0.004)
(290,-0.0008) +- (0,0.004) (295,0.0006) +- (0,0.004) (300,-0.0009) +- (0,0.0045) (305,0.001) +- (0,0.0045)
(310,-0.0012) +- (0,0.0045) (315,0.0014) +- (0,0.0045) (320,-0.0013) +- (0,0.0045) (325,0.0015) +- (0,0.005)
(330,-0.0014) +- (0,0.005) (335,0.0016) +- (0,0.005) (340,-0.0018) +- (0,0.005) (345,0.002) +- (0,0.005)
(350,-0.002) +- (0,0.0055) (355,0.0025) +- (0,0.0055) (360,-0.0022) +- (0,0.0055) (365,0.003) +- (0,0.006)
(370,-0.0028) +- (0,0.006) (375,0.0035) +- (0,0.006) (380,-0.002) +- (0,0.0065) (384,0.0092) +- (0,0.0065)
(388,-0.003) +- (0,0.007) (392,0.004) +- (0,0.007) (396,-0.0025) +- (0,0.007) (398,0.006) +- (0,0.0075)};
\addlegendentry{|Δη| > 0.4}
\node[kin] at (rel axis cs:0.4275,0.934) {\kintext};
\node[anchor=south west, inner sep=0pt, yshift=-1pt, font=\fontsize{8}{9}\selectfont] at (rel axis cs:0,1) {×10\textsuperscript{−3}};
\end{axis}

% screenshot edges that cut the top of the x10^-3 labels and the last y label
\fill[white] (30pt,182.2pt) rectangle (70pt,190pt);
\fill[white] (308pt,182.2pt) rectangle (348pt,190pt);
\fill[white] (586pt,182.2pt) rectangle (626pt,190pt);
\fill[white] (550pt,150pt) rectangle (564.5pt,185pt);
\end{tikzpicture}
\end{document}
